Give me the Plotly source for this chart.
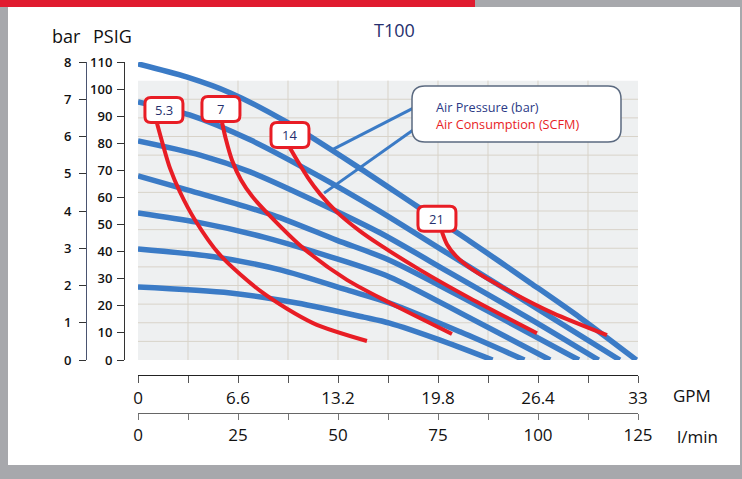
import plotly.graph_objects as go

W, H = 742, 479
FONT = "Open Sans"

# ---------------- data ----------------
# Air pressure curves: flow (GPM) vs discharge pressure (bar)
pressure_levels = ["8 bar", "7 bar", "6 bar", "5 bar", "4 bar", "3 bar", "2 bar"]
p8_gpm = [0, 3.2, 6.1, 9.8, 14.7, 18.4, 21.9, 25.9, 29.2, 32.9]
p8_bar = [7.95, 7.60, 7.17, 6.39, 5.13, 4.13, 3.19, 2.07, 1.13, 0]
p7_gpm = [0, 3.4, 7.4, 11.7, 15.8, 20.6, 26.5, 31.8]
p7_bar = [6.93, 6.58, 5.91, 4.99, 4.03, 2.82, 1.34, 0]
p6_gpm = [0, 4.1, 7.4, 12.5, 16.0, 20.6, 25.9, 30.4]
p6_bar = [5.88, 5.50, 5.05, 4.11, 3.41, 2.34, 1.10, 0]
p5_gpm = [0, 3.3, 8.9, 13.1, 16.6, 22.6, 29.1]
p5_bar = [4.94, 4.56, 3.89, 3.22, 2.68, 1.42, 0]
p4_gpm = [0, 3.9, 8.3, 12.7, 16.6, 21.9, 27.2]
p4_bar = [3.95, 3.70, 3.30, 2.77, 2.23, 1.13, 0]
p3_gpm = [0, 5.0, 9.4, 13.8, 16.6, 21.3, 25.5]
p3_bar = [2.98, 2.77, 2.42, 1.88, 1.53, 0.75, 0]
p2_gpm = [0, 6.1, 10.5, 14.9, 16.6, 19.9, 23.4]
p2_bar = [1.96, 1.80, 1.53, 1.15, 0.99, 0.54, 0]

# Air consumption curves (SCFM)
consumption_labels = ["5.3", "7", "14", "21"]
c53_gpm = [1.25, 1.65, 2.11, 2.77, 3.76, 5.41, 8.25, 11.55, 15.11]
c53_bar = [6.36, 5.77, 5.15, 4.51, 3.76, 2.82, 1.80, 0.99, 0.51]
c7_gpm = [5.54, 5.81, 6.20, 6.80, 7.52, 8.71, 10.89, 13.79, 16.63, 20.72]
c7_bar = [6.39, 5.91, 5.37, 4.83, 4.40, 3.87, 3.01, 2.15, 1.53, 0.70]
c14_gpm = [10.03, 10.56, 11.22, 12.01, 13.13, 14.65, 15.97, 18.61, 21.91, 26.33]
c14_bar = [5.69, 5.32, 4.89, 4.46, 3.97, 3.46, 3.09, 2.42, 1.66, 0.72]
c21_gpm = [20.06, 20.39, 20.99, 22.11, 24.75, 27.39, 30.95]
c21_bar = [3.44, 3.11, 2.79, 2.42, 1.80, 1.26, 0.67]

# axis ticks
bar_ticks = [0, 1, 2, 3, 4, 5, 6, 7, 8]
psig_ticks = [0, 10, 20, 30, 40, 50, 60, 70, 80, 90, 100, 110]
gpm_ticks = [0, 3.3, 6.6, 9.9, 13.2, 16.5, 19.8, 23.1, 26.4, 29.7, 33]
gpm_text = ["0", "", "6.6", "", "13.2", "", "19.8", "", "26.4", "", "33"]
lmin_ticks = [0, 12.5, 25, 37.5, 50, 62.5, 75, 87.5, 100, 112.5, 125]
lmin_text = ["0", "", "25", "", "50", "", "75", "", "100", "", "125"]

# ---------------- styling / geometry ----------------
BLUE = "#3b7bc6"
RED = "#e81d25"
NAVY = "#26306e"
X0_PX, X1_PX = 138, 638
Y0_PX, Y1_PX = 360, 62
XMAX, YMAX = 33.0, 8.0
PX_X = (X1_PX - X0_PX) / XMAX
PX_Y = (Y0_PX - Y1_PX) / YMAX


def px(v):
    return v / W


def py(v):
    return (H - v) / H


fig = go.Figure()

blue_sets = [(p8_gpm, p8_bar), (p7_gpm, p7_bar), (p6_gpm, p6_bar), (p5_gpm, p5_bar),
             (p4_gpm, p4_bar), (p3_gpm, p3_bar), (p2_gpm, p2_bar)]
for name, (xs, ys) in zip(pressure_levels, blue_sets):
    fig.add_trace(go.Scatter(x=xs, y=ys, mode="lines", name=name,
                             line=dict(color=BLUE, width=5.5, shape="spline", smoothing=0.8),
                             hoverinfo="skip", showlegend=False))

red_sets = [(c53_gpm, c53_bar), (c7_gpm, c7_bar), (c14_gpm, c14_bar), (c21_gpm, c21_bar)]
for name, (xs, ys) in zip(consumption_labels, red_sets):
    fig.add_trace(go.Scatter(x=xs, y=ys, mode="lines", name=name,
                             line=dict(color=RED, width=4, shape="spline", smoothing=0.8),
                             hoverinfo="skip", showlegend=False))

# invisible trace so that the secondary (l/min, PSIG) axes are drawn
fig.add_trace(go.Scatter(x=[lmin_ticks[0], lmin_ticks[-1]], y=[psig_ticks[0], psig_ticks[-1]],
                         xaxis="x2", yaxis="y2", mode="markers",
                         marker=dict(opacity=0, size=1), hoverinfo="skip", showlegend=False))

shapes = []
# grey grid background (0..7.5 bar)
shapes.append(dict(type="rect", xref="x", yref="y", x0=0, x1=XMAX, y0=0, y1=7.5,
                   fillcolor="#eef0f1", line=dict(width=0), layer="below"))
for i in range(1, 10):
    gx = gpm_ticks[i]
    shapes.append(dict(type="line", xref="x", yref="y", x0=gx, x1=gx, y0=0, y1=7.5,
                       line=dict(color="#d8d3c9", width=1), layer="below"))
for k in range(1, 15):
    shapes.append(dict(type="line", xref="x", yref="y", x0=0, x1=XMAX, y0=k * 0.5, y1=k * 0.5,
                       line=dict(color="#d8d3c9", width=1), layer="below"))


def rrect(cx_px, cy_px, w, h, r):
    # rounded rectangle in data coords from pixel centre / size
    x0 = (cx_px - w / 2 - X0_PX) / PX_X
    x1 = (cx_px + w / 2 - X0_PX) / PX_X
    y0 = (Y0_PX - (cy_px + h / 2)) / PX_Y
    y1 = (Y0_PX - (cy_px - h / 2)) / PX_Y
    rx, ry = r / PX_X, r / PX_Y
    return (f"M {x0+rx},{y0} L {x1-rx},{y0} Q {x1},{y0} {x1},{y0+ry} "
            f"L {x1},{y1-ry} Q {x1},{y1} {x1-rx},{y1} L {x0+rx},{y1} "
            f"Q {x0},{y1} {x0},{y1-ry} L {x0},{y0+ry} Q {x0},{y0} {x0+rx},{y0} Z")


# pointer lines from legend box
shapes.append(dict(type="line", xref="x", yref="y", x0=18.68, y0=6.87, x1=12.80, y1=5.64,
                   line=dict(color=BLUE, width=3)))
shapes.append(dict(type="line", xref="x", yref="y", x0=18.74, y0=6.34, x1=12.28, y1=4.48,
                   line=dict(color=BLUE, width=3)))
# legend box
shapes.append(dict(type="path", xref="x", yref="y", path=rrect(516.5, 114, 209, 56, 13),
                   fillcolor="white", line=dict(color="#5b6a80", width=1.5), layer="above"))

annotations = []
# consumption label boxes
label_dx = [7, -1, 0, -5]
for lab, (xs, ys), dx in zip(consumption_labels, red_sets, label_dx):
    cx = X0_PX + xs[0] * PX_X + dx
    cy = Y0_PX - ys[0] * PX_Y - 13
    shapes.append(dict(type="path", xref="x", yref="y", path=rrect(cx, cy, 38, 25, 6),
                       fillcolor="white", line=dict(color=RED, width=3), layer="above"))
    annotations.append(dict(x=(cx - X0_PX) / PX_X, y=(Y0_PX - cy) / PX_Y, xref="x", yref="y",
                            text=lab, showarrow=False, xanchor="center", yanchor="middle",
                            font=dict(family=FONT, size=13, color=NAVY)))

annotations.append(dict(x=(434 - X0_PX) / PX_X, y=(Y0_PX - 107) / PX_Y, xref="x", yref="y",
                        text="Air Pressure (bar)", showarrow=False, xanchor="left",
                        yanchor="middle",
                        font=dict(family=FONT, size=12.7, color="#2b3a86")))
annotations.append(dict(x=(434 - X0_PX) / PX_X, y=(Y0_PX - 124) / PX_Y, xref="x", yref="y",
                        text="Air Consumption (SCFM)", showarrow=False, xanchor="left",
                        yanchor="middle",
                        font=dict(family=FONT, size=12.7, color=RED)))

# frame decorations
shapes.append(dict(type="rect", xref="paper", yref="paper", x0=0, x1=px(475), y0=py(7), y1=1,
                   fillcolor="#e01b2f", line=dict(width=0)))
shapes.append(dict(type="rect", xref="paper", yref="paper", x0=px(475), x1=1, y0=py(7), y1=1,
                   fillcolor="#a7a8ac", line=dict(width=0)))
shapes.append(dict(type="rect", xref="paper", yref="paper", x0=0, x1=px(8), y0=0, y1=py(7),
                   fillcolor="#a7a8ac", line=dict(width=0)))
shapes.append(dict(type="rect", xref="paper", yref="paper", x0=0, x1=1, y0=0, y1=py(465),
                   fillcolor="#a7a8ac", line=dict(width=0)))
shapes.append(dict(type="rect", xref="paper", yref="paper", x0=px(740), x1=1, y0=0, y1=1,
                   fillcolor="#a7a8ac", line=dict(width=0)))


def label(xp, yp, text, size, color="#111", weight=500):
    return dict(x=px(xp), y=py(yp), xref="paper", yref="paper", text=text, showarrow=False,
                xanchor="center", yanchor="middle",
                font=dict(family=FONT, size=size, color=color, weight=weight))


annotations += [
    label(394, 30, "T100", 18, NAVY),
    label(66, 36, "bar", 18),
    label(112, 36, "PSIG", 18),
    label(692, 395, "GPM", 17),
    label(697, 436, "l/min", 17),
]

xdom = [px(X0_PX), px(X1_PX)]
ydom = [py(Y0_PX), py(Y1_PX)]

TICKFONT_BIG = dict(family=FONT, size=17, color="#111", weight=500)
TICKFONT_SMALL = dict(family=FONT, size=13, color="#111", weight=600)

fig.update_layout(
    template="none",
    width=W, height=H,
    margin=dict(l=0, r=0, t=0, b=0, pad=0),
    paper_bgcolor="white", plot_bgcolor="white",
    showlegend=False,
    font=dict(family=FONT),
    shapes=shapes, annotations=annotations,
    xaxis=dict(domain=xdom, range=[0, XMAX], anchor="free", position=py(375),
               showline=True, linecolor="#222", linewidth=1.2, ticks="outside",
               ticklen=7, tickcolor="#555", tickvals=gpm_ticks, ticktext=gpm_text,
               tickfont=TICKFONT_BIG, automargin=False,
               showgrid=False, zeroline=False, fixedrange=True),
    xaxis2=dict(range=[0, 125], overlaying="x", anchor="free", position=py(413),
                side="bottom", automargin=False,
                showline=True, linecolor="#666", linewidth=1.2, ticks="outside",
                ticklen=6, tickcolor="#777", tickvals=lmin_ticks, ticktext=lmin_text,
                tickfont=TICKFONT_BIG,
                showgrid=False, zeroline=False),
    yaxis=dict(domain=ydom, range=[0, YMAX], anchor="free", position=px(86),
               showline=True, linecolor="#4a5470", linewidth=1, ticks="outside",
               ticklen=7, tickcolor="#333", tickvals=bar_ticks, automargin=False,
               ticklabelstandoff=5,
               tickfont=TICKFONT_SMALL,
               showgrid=False, zeroline=False),
    yaxis2=dict(range=[0, 110], overlaying="y", anchor="free", position=px(124),
                side="left", automargin=False, ticklabelstandoff=2,
                showline=True, linecolor="#333", linewidth=1, ticks="outside",
                ticklen=7, tickcolor="#333", tickvals=psig_ticks,
                tickfont=TICKFONT_SMALL,
                showgrid=False, zeroline=False),
)

fig.write_html("out.html", config={"displayModeBar": False, "staticPlot": True},
               post_script="document.body.style.margin='0px';document.body.style.padding='0px';")
